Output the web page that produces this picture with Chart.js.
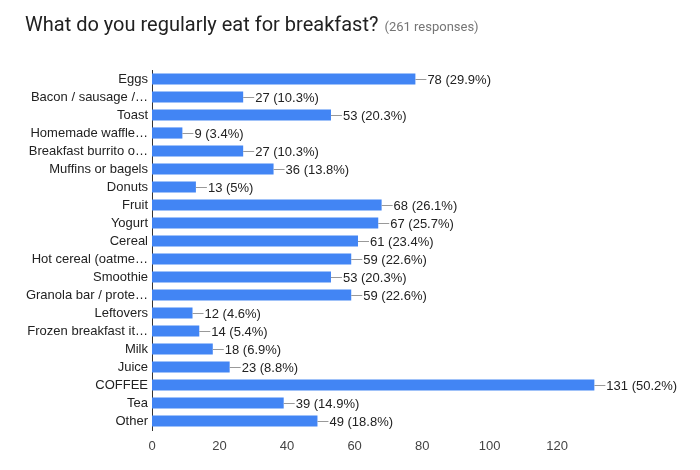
<!DOCTYPE html>
<html>
<head>
<meta charset="utf-8">
<script src="https://cdn.jsdelivr.net/npm/chart.js@4"></script>
<style>
  html, body { margin: 0; padding: 0; background: #fff; }
  #wrap { position: relative; width: 700px; height: 470px; }
  #title { position: absolute; left: 25px; top: 12px; font-family: Roboto, sans-serif; font-size: 20px; color: #212121; white-space: nowrap; }
  #title span { font-size: 13px; color: #757575; margin-left: 6px; }
  canvas { position: absolute; left: 0; top: 0; }
</style>
</head>
<body>
<div id="wrap">
  <canvas id="chart" width="700" height="470"></canvas>
  <div id="title">What do you regularly eat for breakfast?<span>(261 responses)</span></div>
</div>
<script>
const categories = [
  'Eggs', 'Bacon / sausage /…', 'Toast', 'Homemade waffle…', 'Breakfast burrito o…',
  'Muffins or bagels', 'Donuts', 'Fruit', 'Yogurt', 'Cereal',
  'Hot cereal (oatme…', 'Smoothie', 'Granola bar / prote…', 'Leftovers', 'Frozen breakfast it…',
  'Milk', 'Juice', 'COFFEE', 'Tea', 'Other'
];
const counts = [78, 27, 53, 9, 27, 36, 13, 68, 67, 61, 59, 53, 59, 12, 14, 18, 23, 131, 39, 49];
const percents = ['29.9%', '10.3%', '20.3%', '3.4%', '10.3%', '13.8%', '5%', '26.1%', '25.7%', '23.4%',
  '22.6%', '20.3%', '22.6%', '4.6%', '5.4%', '6.9%', '8.8%', '50.2%', '14.9%', '18.8%'];
const xTicks = [0, 20, 40, 60, 80, 100, 120];

const FONT = '"Liberation Sans", Arial, sans-serif';

// draws the "—78 (29.9%)" annotation after every bar
const valueLabels = {
  id: 'valueLabels',
  afterDatasetsDraw(chart) {
    const ctx = chart.ctx;
    const meta = chart.getDatasetMeta(0);
    ctx.save();
    ctx.font = '13px ' + FONT;
    ctx.textBaseline = 'middle';
    meta.data.forEach((bar, i) => {
      const x = bar.x, y = bar.y;
      ctx.strokeStyle = '#999';
      ctx.lineWidth = 1;
      ctx.beginPath();
      ctx.moveTo(x, Math.round(y) + 0.5);
      ctx.lineTo(x + 11, Math.round(y) + 0.5);
      ctx.stroke();
      ctx.fillStyle = '#222';
      ctx.fillText(`${counts[i]} (${percents[i]})`, x + 12, y + 1);
    });
    ctx.restore();
  }
};

new Chart(document.getElementById('chart').getContext('2d'), {
  type: 'bar',
  data: {
    labels: categories,
    datasets: [{
      data: counts,
      backgroundColor: '#4285f4',
      barPercentage: 0.62,
      categoryPercentage: 1.0
    }]
  },
  options: {
    indexAxis: 'y',
    responsive: false,
    animation: false,
    layout: { padding: { left: 0, right: 82, top: 70, bottom: 0 } },
    plugins: {
      legend: { display: false },
      tooltip: { enabled: false }
    },
    scales: {
      x: {
        min: 0,
        max: 138,
        afterBuildTicks: axis => { axis.ticks = xTicks.map(v => ({ value: v })); },
        afterFit: axis => { axis.height = 40; },
        grid: { display: false, drawTicks: false },
        border: { display: false },
        ticks: {
          padding: 9,
          color: '#444',
          font: { family: FONT, size: 13 }
        }
      },
      y: {
        afterFit: axis => { axis.width = 152; },
        grid: { display: false, drawTicks: false },
        border: { display: true, color: '#333', width: 1 },
        ticks: {
          padding: 4,
          color: '#222',
          autoSkip: false,
          font: { family: FONT, size: 13 }
        }
      }
    }
  },
  plugins: [valueLabels]
});
</script>
</body>
</html>
